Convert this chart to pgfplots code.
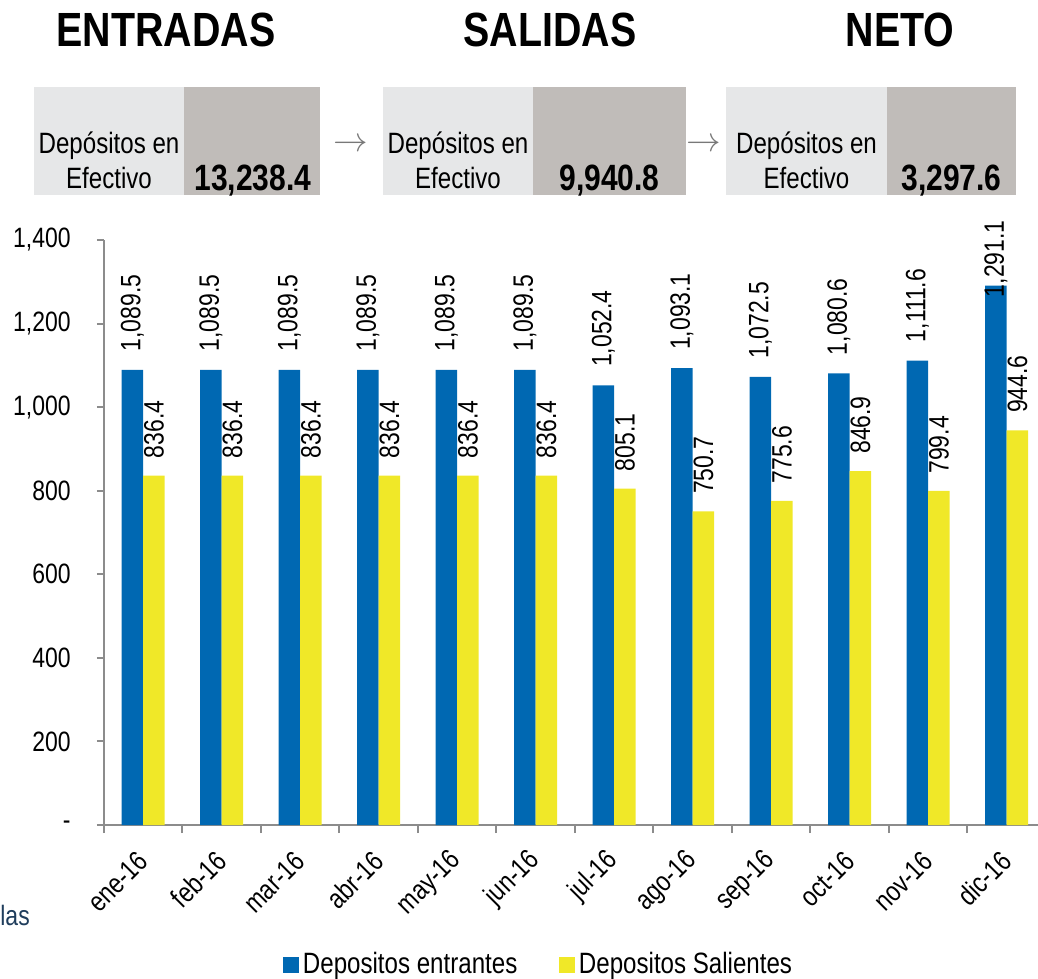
\documentclass[border=0pt]{standalone}
\usepackage{fontspec}
\setmainfont{Liberation Sans}[FakeStretch=0.82]
\usepackage{pgfplots}
\usepackage{pgfplotstable}
\pgfplotsset{compat=1.18}

\definecolor{barblue}{RGB}{0,104,178}
\definecolor{baryellow}{RGB}{240,232,40}
\definecolor{boxlight}{RGB}{230,231,232}
\definecolor{boxdark}{RGB}{192,188,185}
\definecolor{axisgray}{RGB}{140,140,140}
\definecolor{arrowgray}{RGB}{120,120,120}
\definecolor{notenavy}{RGB}{31,61,92}

% mes, entrantes, salientes, desplazamiento de la etiqueta azul (pt)
\pgfplotstableread{
x  in      out    dy
0  1089.5  836.4  9
1  1089.5  836.4  9
2  1089.5  836.4  9
3  1089.5  836.4  9
4  1089.5  836.4  9
5  1089.5  836.4  9
6  1052.4  805.1  9
7  1093.1  750.7  9
8  1072.5  775.6  9
9  1080.6  846.9  9
10 1111.6  799.4  9
11 1291.1  944.6  -6
}\depositos

\newcommand{\txt}{\fontsize{14}{17.5}\selectfont}
\newcommand{\txtb}{\fontsize{14.7}{17.5}\selectfont}

\begin{document}
\begin{tikzpicture}
\path[use as bounding box] (0pt,0pt) rectangle (519pt,-489.5pt);

% titulos
\node[font=\bfseries\fontsize{24}{24}\selectfont] at (83pt,-15pt) {ENTRADAS};
\node[font=\bfseries\fontsize{24}{24}\selectfont] at (275pt,-15pt) {SALIDAS};
\node[font=\bfseries\fontsize{24}{24}\selectfont] at (450pt,-15pt) {NETO};

% cajas
\fill[boxlight] (17pt,-43.75pt) rectangle (92pt,-97.25pt);
\fill[boxdark] (92pt,-43.75pt) rectangle (160pt,-97.25pt);
\fill[boxlight] (191.5pt,-43.75pt) rectangle (266.5pt,-97.25pt);
\fill[boxdark] (266.5pt,-43.75pt) rectangle (343pt,-97.25pt);
\fill[boxlight] (363pt,-43.75pt) rectangle (443.5pt,-97.25pt);
\fill[boxdark] (443.5pt,-43.75pt) rectangle (508pt,-97.25pt);

\node[font=\txtb, align=center, inner sep=0pt] at (54.5pt,-80pt) {Depósitos en\\Efectivo};
\node[font=\txtb, align=center, inner sep=0pt] at (229pt,-80pt) {Depósitos en\\Efectivo};
\node[font=\txtb, align=center, inner sep=0pt] at (403.25pt,-80pt) {Depósitos en\\Efectivo};

\node[font=\bfseries\fontsize{18.3}{18}\selectfont, anchor=base, inner sep=0pt] at (126.5pt,-95pt) {13,238.4};
\node[font=\bfseries\fontsize{18.3}{18}\selectfont, anchor=base, inner sep=0pt] at (304.75pt,-95pt) {9,940.8};
\node[font=\bfseries\fontsize{18.3}{18}\selectfont, anchor=base, inner sep=0pt] at (475.75pt,-95pt) {3,297.6};

\node[text=arrowgray, inner sep=0pt] at (175.5pt,-72.5pt) {\fontsize{17}{17}\selectfont$\rightarrow$};
\node[text=arrowgray, inner sep=0pt] at (352pt,-72.5pt) {\fontsize{17}{17}\selectfont$\rightarrow$};

\node[font=\txt, text=notenavy, anchor=west, inner sep=0pt] at (0pt,-457.5pt) {las};

\begin{axis}[
  at={(52pt,-412.5pt)}, anchor=south west,
  scale only axis, width=467pt, height=292.5pt,
  ybar=0pt, bar width=10.75pt,
  xmin=-0.5, xmax=11.4, ymin=0, ymax=1400,
  clip=false,
  axis x line*=bottom, axis y line*=left,
  axis line style={axisgray, line width=1pt, -},
  tick align=outside,
  xtick={0,...,11},
  xticklabels={ene-16,feb-16,mar-16,abr-16,may-16,jun-16,jul-16,ago-16,sep-16,oct-16,nov-16,dic-16},
  major x tick style={draw=none},
  minor xtick={-0.5,0.5,...,10.5},
  minor x tick style={axisgray, line width=1pt},
  minor tick length=4pt,
  major y tick style={axisgray, line width=1pt},
  major tick length=3.5pt,
  ytick={0,200,...,1400},
  yticklabels={-,200,400,600,800,{1,000},{1,200},{1,400}},
  yticklabel style={font=\txt, inner sep=0pt, anchor=east, xshift=-13pt},
  xticklabel style={font=\txt, inner sep=0pt, yshift=-12pt, rotate=45, anchor=east},
  /pgf/number format/.cd, fixed, fixed zerofill, precision=1, 1000 sep={,}, assume math mode=true,
  /pgfplots/.cd,
  legend style={at={(0.4665,-0.239)}, anchor=center, draw=none, fill=none,
    legend columns=2, font=\txtb,
    /tikz/every even column/.append style={column sep=19pt}},
  legend image code/.code={\fill[#1] (0pt,-3.9pt) rectangle (7.8pt,3.9pt);},
]
\addplot[fill=barblue, draw=none,
  nodes near coords,
  visualization depends on={\thisrow{dy} \as \dy},
  every node near coord/.append style={yshift=\dy*1pt, rotate=90, anchor=west,
    inner sep=0pt, font=\txt, text=black}]
  table[x=x, y=in] {\depositos};
\addlegendentry{Depositos entrantes}
\addplot[fill=baryellow, draw=none,
  nodes near coords,
  every node near coord/.append style={yshift=8.5pt, rotate=90, anchor=west,
    inner sep=0pt, font=\txt, text=black}]
  table[x=x, y=out] {\depositos};
\addlegendentry{Depositos Salientes}
\end{axis}
\end{tikzpicture}
\end{document}
